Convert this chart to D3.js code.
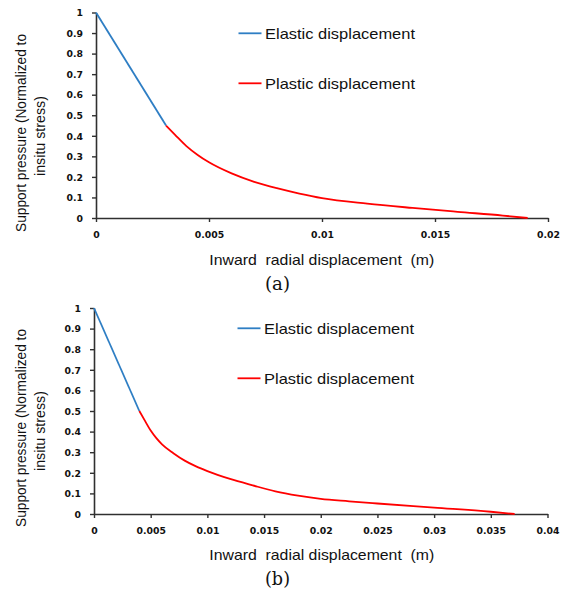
<!DOCTYPE html>
<html>
<head>
<meta charset="utf-8">
<script src="https://cdn.jsdelivr.net/npm/d3@7"></script>
<style>
  html, body { margin: 0; padding: 0; background: #fff; }
  svg { display: block; }
</style>
</head>
<body>
<svg id="chart" width="565" height="597"></svg>
<script>
// ---------- data ----------
const panelCaptions = ["(a)", "(b)"];
const seriesNames = ["Elastic displacement", "Plastic displacement"];
const seriesColors = ["#2e7ec4", "#ff0000"];
const yTickValues = [0, 0.1, 0.2, 0.3, 0.4, 0.5, 0.6, 0.7, 0.8, 0.9, 1];
const xTicksA = [0, 0.005, 0.01, 0.015, 0.02];
const xTicksB = [0, 0.005, 0.01, 0.015, 0.02, 0.025, 0.03, 0.035, 0.04];

const elasticA_x = [0, 0.0031];
const elasticA_y = [1, 0.45];
const plasticA_x = [0.0031, 0.0035, 0.004, 0.0045, 0.005, 0.006, 0.007, 0.008, 0.009, 0.01, 0.012, 0.014, 0.016, 0.018, 0.0191];
const plasticA_y = [0.45, 0.405, 0.35, 0.307, 0.271, 0.217, 0.176, 0.145, 0.119, 0.097, 0.07, 0.049, 0.03, 0.012, 0];

const elasticB_x = [0, 0.004];
const elasticB_y = [1, 0.5];
const plasticB_x = [0.004, 0.0045, 0.005, 0.0055, 0.006, 0.007, 0.008, 0.009, 0.01, 0.012, 0.014, 0.016, 0.018, 0.02, 0.0225, 0.025, 0.03, 0.035, 0.0371];
const plasticB_y = [0.5, 0.452, 0.405, 0.368, 0.338, 0.295, 0.259, 0.231, 0.208, 0.17, 0.139, 0.11, 0.089, 0.073, 0.0615, 0.051, 0.031, 0.011, 0];

const xTitle = "Inward  radial displacement  (m)";
const yTitleLines = ["Support pressure (Normalized to", "insitu stress)"];

// ---------- drawing ----------
const svg = d3.select("#chart");
const zip = (xs, ys) => xs.map((x, i) => ({x, y: ys[i]}));

const panels = [
  { caption: panelCaptions[0], xMax: 0.02, xTicks: xTicksA, xRange: [96, 548], yRange: [218, 12.5], dy: 0,
    elastic: zip(elasticA_x, elasticA_y), plastic: zip(plasticA_x, plasticA_y), legendX: 238.5 },
  { caption: panelCaptions[1], xMax: 0.04, xTicks: xTicksB, xRange: [94, 547.5], yRange: [514, 308], dy: 295,
    elastic: zip(elasticB_x, elasticB_y), plastic: zip(plasticB_x, plasticB_y), legendX: 237.5 }
];

panels.forEach(p => {
  const g = svg.append("g");
  const x = d3.scaleLinear().domain([0, p.xMax]).range(p.xRange);
  const y = d3.scaleLinear().domain([0, 1]).range(p.yRange);

  // axes
  const yAxis = g.append("g").attr("transform", `translate(${p.xRange[0]},0)`)
    .call(d3.axisLeft(y).tickValues(yTickValues).tickSize(4).tickSizeOuter(0).tickPadding(9)
      .tickFormat(d => String(+d.toFixed(1))));
  const xAxis = g.append("g").attr("transform", `translate(0,${p.yRange[0]})`)
    .call(d3.axisBottom(x).tickValues(p.xTicks).tickSize(4).tickSizeOuter(0).tickPadding(9)
      .tickFormat(d => String(+d.toFixed(3))));
  [yAxis, xAxis].forEach(a => {
    a.select(".domain").attr("stroke", "#303030").attr("stroke-width", 1.6);
    a.selectAll(".tick line").attr("stroke", "#303030").attr("stroke-width", 1.4);
    a.selectAll(".tick text").attr("fill", "#111")
      .style("font-family", "'DejaVu Sans', Verdana, sans-serif")
      .style("font-weight", "bold").style("font-size", "9.3px");
  });
  yAxis.selectAll(".tick text").attr("dy", "0.35em");
  xAxis.selectAll(".tick text").attr("dy", "0.71em");

  // lines
  const line = d3.line().x(d => x(d.x)).y(d => y(d.y)).curve(d3.curveMonotoneX);
  g.append("path").datum(p.elastic).attr("d", d3.line().x(d => x(d.x)).y(d => y(d.y)))
    .attr("fill", "none").attr("stroke", seriesColors[0]).attr("stroke-width", 1.8);
  g.append("path").datum(p.plastic).attr("d", line)
    .attr("fill", "none").attr("stroke", seriesColors[1]).attr("stroke-width", 1.8);

  // legend
  const legY = [33.3 + p.dy, 83.3 + p.dy];
  seriesNames.forEach((name, i) => {
    g.append("line").attr("x1", p.legendX).attr("x2", p.legendX + 23)
      .attr("y1", legY[i]).attr("y2", legY[i])
      .attr("stroke", seriesColors[i]).attr("stroke-width", 1.8);
    g.append("text").attr("x", p.legendX + 26.5).attr("y", legY[i] + 5.5)
      .attr("textLength", 150).attr("lengthAdjust", "spacingAndGlyphs")
      .style("font-family", "'Liberation Sans', Arial, sans-serif").style("font-size", "15px")
      .attr("fill", "#111").text(name);
  });

  // x title
  g.append("text").attr("x", 209.3).attr("y", 265 + p.dy)
    .attr("xml:space", "preserve").style("white-space", "pre")
    .attr("textLength", 225).attr("lengthAdjust", "spacingAndGlyphs")
    .style("font-family", "'Liberation Sans', Arial, sans-serif").style("font-size", "15px")
    .attr("fill", "#111").text(xTitle);

  // y title
  const cy = 133 + p.dy;
  g.append("text").attr("transform", `translate(25.5,${cy}) rotate(-90)`)
    .attr("text-anchor", "middle").attr("textLength", 198).attr("lengthAdjust", "spacingAndGlyphs")
    .style("font-family", "'Liberation Sans', Arial, sans-serif").style("font-size", "14px")
    .attr("fill", "#111").text(yTitleLines[0]);
  g.append("text").attr("transform", `translate(44.5,${cy + 3}) rotate(-90)`)
    .attr("text-anchor", "middle").attr("textLength", 80).attr("lengthAdjust", "spacingAndGlyphs")
    .style("font-family", "'Liberation Sans', Arial, sans-serif").style("font-size", "14px")
    .attr("fill", "#111").text(yTitleLines[1]);

  // caption
  g.append("text").attr("x", 277.5).attr("y", 289.5 + p.dy).attr("text-anchor", "middle")
    .attr("textLength", 25).attr("lengthAdjust", "spacingAndGlyphs")
    .style("font-family", "'DejaVu Serif', 'Liberation Serif', serif").style("font-size", "18.5px")
    .attr("fill", "#111").text(p.caption);
});
</script>
</body>
</html>
